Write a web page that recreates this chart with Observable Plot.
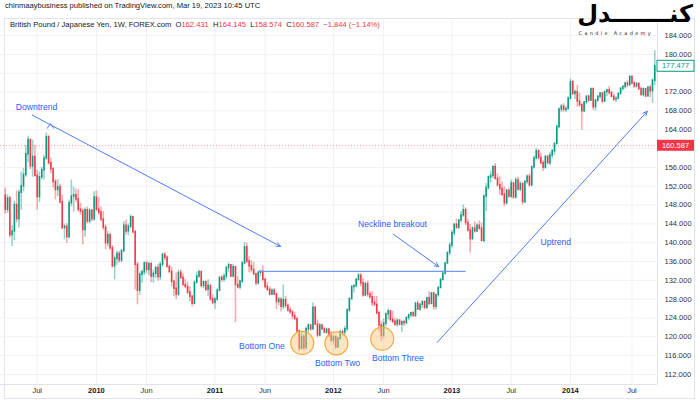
<!DOCTYPE html>
<html><head><meta charset="utf-8">
<script src="https://cdn.jsdelivr.net/npm/d3@7"></script>
<script src="https://cdn.jsdelivr.net/npm/@observablehq/plot@0.6"></script>
<style>
body{margin:0;background:#fff;font-family:"Liberation Sans",Arial,sans-serif;}
#wrap{position:relative;width:700px;height:400px;overflow:hidden;background:#fff;}
#pub{position:absolute;left:5px;top:1px;font-size:7.6px;color:#131722;white-space:nowrap;}
#box{position:absolute;left:4px;top:18px;width:691px;height:381px;border:1px solid #e0e3eb;box-sizing:border-box;}
#chart{position:absolute;left:0;top:18px;}
#sym{position:absolute;left:10px;top:20px;font-size:7.6px;color:#131722;white-space:nowrap;}
#sym .r{color:#f23645;}
#logo{position:absolute;right:7px;top:2px;text-align:right;}
#logo .fa{font-family:"DejaVu Sans";font-weight:bold;font-size:24px;line-height:24px;height:24px;color:#000;direction:rtl;}
#logo .en{font-family:"DejaVu Sans";font-size:5px;line-height:5px;letter-spacing:2.3px;color:#222;margin-top:5px;margin-right:40px;}
</style></head>
<body><div id="wrap">
<div id="pub">chinmaaybusiness published on TradingView.com, Mar 19, 2023 10:45 UTC</div>
<div id="box"></div>
<div id="chart"></div>
<div id="sym">British Pound / Japanese Yen, 1W, FOREX.com&nbsp;&nbsp;O<span class="r">162.431</span>&nbsp;&nbsp;H<span class="r">164.145</span>&nbsp;&nbsp;L<span class="r">158.574</span>&nbsp;&nbsp;C<span class="r">160.587</span>&nbsp;&nbsp;<span class="r">−1.844 (−1.14%)</span></div>
<div id="logo"><div class="fa">کنـــــــدل</div><div class="en">Candle Academy</div></div>
</div>
<script>
const opens = [150.0,147.0,149.4,141.6,142.4,148.0,145.0,150.6,152.0,154.4,
158.8,161.8,156.2,158.2,154.2,149.7,153.9,155.4,157.9,162.4,
156.9,155.6,152.9,151.2,151.8,148.6,143.1,143.4,141.2,148.4,
149.8,150.1,149.2,147.0,146.6,142.7,146.9,144.5,146.8,145.0,
149.6,147.0,146.4,144.9,143.2,139.9,141.6,138.8,135.0,136.6,
137.6,136.2,138.2,143.6,142.4,143.4,145.4,142.2,135.3,129.8,
133.2,133.7,135.6,134.2,135.4,132.8,133.4,134.6,132.7,135.3,
137.4,136.8,134.9,133.8,131.7,130.2,129.0,133.6,132.5,131.0,
130.6,129.4,128.5,127.0,131.5,132.8,133.7,130.8,131.6,130.0,
130.8,128.0,127.2,127.9,129.8,132.5,132.1,132.8,134.6,135.2,
132.8,134.8,131.0,130.5,131.7,135.6,139.0,136.0,135.0,134.2,
133.3,131.4,133.6,133.8,132.1,130.6,130.0,129.0,129.8,129.0,
127.4,127.9,126.4,127.8,126.6,125.6,125.2,124.4,123.8,121.2,
117.5,120.0,117.6,121.6,122.4,121.6,126.2,122.6,120.3,122.4,
121.6,120.9,121.5,120.2,119.2,119.9,117.8,119.6,121.0,120.9,
121.6,125.6,128.0,130.6,130.8,132.1,133.0,131.4,128.8,131.2,
129.0,128.4,127.2,126.8,125.0,122.4,120.2,122.8,124.8,125.4,
123.6,123.2,122.6,123.4,122.6,123.1,122.9,124.0,124.6,125.0,
124.4,127.0,125.8,126.8,127.4,126.2,128.2,127.0,129.2,126.4,
128.9,130.4,132.1,133.4,135.6,137.8,139.4,142.0,143.8,143.2,
144.7,145.8,146.9,144.2,142.6,140.8,143.0,142.4,143.6,143.0,
140.4,149.8,151.6,153.9,154.2,156.1,153.6,152.2,151.4,150.2,
148.4,151.0,149.8,152.6,149.6,153.2,151.3,152.4,148.6,152.9,
154.0,152.2,156.0,157.9,159.4,158.0,156.9,155.9,158.2,156.9,
158.5,159.4,161.0,164.6,168.3,168.9,168.2,168.4,170.6,174.1,
171.6,172.0,170.0,169.2,167.9,169.8,171.0,170.2,172.6,168.8,
170.2,171.0,171.7,170.0,172.0,172.4,171.8,171.0,170.4,170.6,
171.6,172.7,173.1,173.8,173.5,175.2,173.8,173.2,173.7,172.6,
171.4,172.6,171.1,172.9,172.2,174.4];
const highs = [151.6,150.2,149.8,143.6,148.8,151.0,151.2,155.0,155.8,160.7,
162.6,162.0,161.8,160.7,155.4,155.0,156.0,158.6,163.3,162.8,
158.0,156.0,153.5,153.4,152.4,150.1,143.9,144.0,149.0,153.3,
151.8,151.4,151.2,148.4,147.2,147.4,147.6,147.2,147.0,150.8,
151.0,149.6,147.6,146.6,143.8,142.4,142.0,139.4,137.2,138.2,
138.2,138.6,144.4,144.8,144.0,145.9,145.6,142.6,135.8,133.8,
134.2,135.9,136.0,135.8,135.9,134.2,135.0,135.4,135.8,137.8,
137.9,137.2,135.0,134.8,132.0,133.6,134.2,134.2,133.4,132.2,
131.6,130.6,128.8,131.8,133.8,134.2,134.0,131.9,131.8,132.1,
131.0,128.9,128.4,130.2,132.8,133.0,133.4,135.0,135.7,135.3,
135.4,135.0,132.8,132.0,136.0,140.0,139.9,137.0,136.2,135.8,
133.5,133.9,134.2,135.1,132.4,131.6,130.6,130.2,130.2,129.3,
128.4,128.3,131.0,128.6,127.0,126.3,125.6,125.2,124.0,121.4,
120.9,120.4,122.1,122.8,122.6,127.2,126.4,123.6,122.8,122.6,
122.0,121.8,121.8,121.1,120.4,120.2,119.9,121.3,121.4,122.2,
126.0,128.3,130.8,131.0,132.3,133.5,133.5,132.4,131.6,131.8,
129.6,129.6,128.6,128.6,125.4,123.3,123.8,125.0,125.9,125.6,
125.4,123.9,123.8,123.7,123.4,123.6,124.2,124.8,125.2,125.4,
127.4,127.6,127.0,127.6,127.6,128.4,129.6,129.4,129.4,129.0,
130.6,132.3,134.0,135.8,138.0,140.0,142.6,144.0,145.0,144.9,
146.6,148.0,147.4,145.0,143.8,143.4,144.4,144.0,144.6,144.2,
150.2,152.6,154.2,155.2,156.3,156.8,154.6,154.0,152.9,151.9,
151.4,151.6,153.3,152.8,153.8,153.9,153.0,152.8,153.2,154.4,
154.6,156.3,158.4,160.0,159.8,159.0,157.4,158.6,158.6,159.2,
159.8,161.2,165.0,168.6,169.4,169.5,169.0,171.0,174.8,174.4,
172.4,173.4,171.8,169.6,170.0,171.2,171.4,172.9,172.9,170.4,
171.2,171.9,171.8,172.2,172.6,173.2,172.2,171.6,171.0,171.8,
172.9,173.4,174.1,174.4,175.5,175.4,174.2,174.0,173.9,173.0,
172.9,172.8,173.2,173.4,174.8,180.8];
const lows = [146.0,146.2,141.0,139.2,140.4,144.2,143.1,146.9,150.8,153.9,
157.0,155.5,153.9,153.9,146.9,148.5,153.3,153.3,157.5,156.5,
154.6,151.6,149.1,149.8,148.2,142.8,140.6,139.9,140.8,147.6,
146.5,148.6,146.5,145.8,139.5,141.2,144.0,144.0,144.5,144.6,
146.6,145.8,144.4,142.6,138.5,139.1,138.4,134.6,132.1,135.2,
135.6,135.8,138.0,141.6,141.5,142.9,141.9,130.0,126.8,128.8,
131.4,133.0,133.4,133.0,131.5,131.4,132.4,131.8,132.0,134.8,
136.2,134.6,133.4,130.6,128.5,127.9,128.6,132.2,130.8,130.2,
129.0,127.4,126.4,126.8,131.2,132.4,130.4,130.2,129.5,128.5,
127.6,126.8,125.8,127.6,129.6,131.6,131.6,132.1,133.6,132.6,
132.6,123.0,130.2,130.0,131.4,135.3,135.6,133.6,133.6,133.0,
130.8,131.0,132.8,131.7,130.2,129.6,128.7,128.7,128.8,125.8,
126.6,125.3,125.8,126.0,125.2,124.8,123.6,123.4,120.9,116.9,
117.2,117.0,117.2,120.8,121.2,121.4,122.4,119.8,120.0,121.3,
120.7,120.5,119.9,118.7,118.2,117.3,117.5,119.2,120.1,120.1,
121.1,125.2,127.8,129.3,130.4,131.8,130.6,128.4,128.6,128.4,
128.0,126.4,126.4,124.7,121.1,119.0,119.6,122.2,123.6,123.2,
122.8,122.2,122.0,122.3,120.9,122.2,122.6,123.4,124.0,124.2,
124.2,125.6,125.4,126.0,125.7,125.8,126.6,126.8,125.7,125.7,
128.4,130.2,131.8,133.2,135.4,137.2,138.8,141.4,142.8,142.8,
144.2,145.4,143.6,142.2,137.8,140.4,142.0,142.2,142.6,140.2,
140.0,146.6,151.2,152.6,153.6,153.3,151.8,150.1,149.8,147.6,
148.0,149.4,149.4,149.2,149.3,151.0,150.8,148.0,148.3,152.4,
151.8,151.9,155.6,157.6,157.6,156.6,155.1,155.6,156.6,156.4,
157.9,158.6,160.7,164.2,167.6,167.8,167.6,168.2,170.3,171.3,
170.4,168.8,168.8,163.9,167.6,169.4,169.8,170.0,168.1,168.0,
169.8,170.5,169.5,169.8,171.0,171.4,170.8,169.9,169.8,170.4,
171.4,172.2,172.6,172.9,173.2,173.6,172.8,172.8,172.4,171.2,
171.0,170.8,170.9,170.8,169.6,173.4];
const closes = [147.0,149.4,141.6,142.4,148.0,145.0,150.6,152.0,154.4,158.8,
161.8,156.2,158.2,154.2,149.7,153.9,155.4,157.9,162.4,156.9,
155.6,152.9,151.2,151.8,148.6,143.1,143.4,141.2,148.4,149.8,
150.1,149.2,147.0,146.6,142.7,146.9,144.5,146.8,145.0,149.6,
147.0,146.4,144.9,143.2,139.9,141.6,138.8,135.0,136.6,137.6,
136.2,138.2,143.6,142.4,143.4,145.4,142.2,135.3,129.8,133.2,
133.7,135.6,134.2,135.4,132.8,133.4,134.6,132.7,135.3,137.4,
136.8,134.9,133.8,131.7,130.2,129.0,133.6,132.5,131.0,130.6,
129.4,128.5,127.0,131.5,132.8,133.7,130.8,131.6,130.0,130.8,
128.0,127.2,127.9,129.8,132.5,132.1,132.8,134.6,135.2,132.8,
134.8,131.0,130.5,131.7,135.6,139.0,136.0,135.0,134.2,133.3,
131.4,133.6,133.8,132.1,130.6,130.0,129.0,129.8,129.0,127.4,
127.9,126.4,127.8,126.6,125.6,125.2,124.4,123.8,121.2,117.5,
120.0,117.6,121.6,122.4,121.6,126.2,122.6,120.3,122.4,121.6,
120.9,121.5,120.2,119.2,119.9,117.8,119.6,121.0,120.9,121.6,
125.6,128.0,130.6,130.8,132.1,133.0,131.4,128.8,131.2,129.0,
128.4,127.2,126.8,125.0,122.4,120.2,122.8,124.8,125.4,123.6,
123.2,122.6,123.4,122.6,123.1,122.9,124.0,124.6,125.0,124.4,
127.0,125.8,126.8,127.4,126.2,128.2,127.0,129.2,126.4,128.9,
130.4,132.1,133.4,135.6,137.8,139.4,142.0,143.8,143.2,144.7,
145.8,146.9,144.2,142.6,140.8,143.0,142.4,143.6,143.0,140.4,
149.8,151.6,153.9,154.2,156.1,153.6,152.2,151.4,150.2,148.4,
151.0,149.8,152.6,149.6,153.2,151.3,152.4,148.6,152.9,154.0,
152.2,156.0,157.9,159.4,158.0,156.9,155.9,158.2,156.9,158.5,
159.4,161.0,164.6,168.3,168.9,168.2,168.4,170.6,174.1,171.6,
172.0,170.0,169.2,167.9,169.8,171.0,170.2,172.6,168.8,170.2,
171.0,171.7,170.0,172.0,172.4,171.8,171.0,170.4,170.6,171.6,
172.7,173.1,173.8,173.5,175.2,173.8,173.2,173.7,172.6,171.4,
172.6,171.1,172.9,172.2,174.4,177.477];

const firstWeek = "2009-03-30";
const tickDates = ["2009-07-06","2010-01-04","2010-06-07","2011-01-03","2011-06-06","2012-01-02","2012-06-04","2012-12-31","2013-07-01","2013-12-30","2014-07-07"];
const tickLabels = ["Jul","2010","Jun","2011","Jun","2012","Jun","2013","Jul","2014","Jul"];
const priceTicks = [112,116,120,124,128,132,136,140,144,148,152,156,160,164,168,172,176,180,184];
const currentPrice = 160.587;
const lastClose = 177.477;

// annotations, x in weeks since first bar, y in price
const arrowX1 = [11.8, 170.2, 189.5];
const arrowY1 = [167.1, 141.8, 118.8];
const arrowX2 = [120.8, 190.2, 281.7];
const arrowY2 = [139.2, 134.9, 167.9];
const noteText = ["Downtrend","Neckline breakout","Uptrend","Bottom One","Bottom Two","Bottom Three"];
const noteX = [13.7, 169.9, 241.6, 112.6, 145.8, 172.3];
const noteY = [168.8, 144.0, 140.2, 117.9, 114.3, 115.4];
const bottomX = [130.3, 145.3, 165.4];
const bottomY = [118.7, 118.6, 119.6];
const necklineX = [111.2, 202.2];
const necklineY = 133.9;
const caretX = [18.4, 19.8, 21.3];
const caretY = [164.3, 165.3, 164.3];

const t0 = Date.parse(firstWeek + "T00:00:00Z");
const wk = i => new Date(t0 + i * 7 * 86400000);
const candles = closes.map((c, i) => ({date: wk(i), open: opens[i], high: highs[i], low: lows[i], close: c}));
const col = d => d.close >= d.open ? "#089981" : "#f23645";
const ticks = tickDates.map((s, i) => ({date: new Date(s + "T00:00:00Z"), label: tickLabels[i], year: /^\d+$/.test(tickLabels[i])}));
const arrows = arrowX1.map((x, i) => ({x1: wk(x), y1: arrowY1[i], x2: wk(arrowX2[i]), y2: arrowY2[i]}));
const notes = noteText.map((t, i) => ({t, x: wk(noteX[i]), y: noteY[i]}));
const bottoms = bottomX.map((x, i) => ({x: wk(x), y: bottomY[i]}));
const caret = caretX.map((x, i) => ({x: wk(x), y: caretY[i]}));
// labels hidden behind the price boxes on the scale are not drawn (as in TradingView)
const labelTicks = priceTicks.filter(v => Math.abs(v - currentPrice) > 2.2 && Math.abs(v - lastClose) > 2.2);

const xDomain = [wk(-2.1), wk(286.2)];
const yDomain = [109.87, 187.63];
const blue = "#4f7cf7";

const chart = Plot.plot({
  width: 700, height: 382,
  marginLeft: 0, marginRight: 43, marginTop: 0, marginBottom: 16,
  style: {fontFamily: "'Liberation Sans', Arial, sans-serif", fontSize: "7.5px", background: "transparent", color: "#131722"},
  x: {type: "utc", domain: xDomain, axis: null},
  y: {domain: yDomain, axis: null},
  marks: [
    Plot.gridY(priceTicks, {stroke: "#eef1f7", strokeOpacity: 1}),
    Plot.gridX(ticks.map(d => d.date), {stroke: "#eef1f7", strokeOpacity: 1}),
    Plot.ruleY([yDomain[0]], {stroke: "#e0e3eb"}),
    Plot.ruleX([xDomain[1]], {stroke: "#e0e3eb"}),
    Plot.ruleY([currentPrice], {stroke: "#f23645", strokeOpacity: 0.55, strokeDasharray: "1 2"}),
    Plot.ruleX(candles, {x: "date", y1: "low", y2: "high", stroke: col, strokeOpacity: 0.42, strokeWidth: 1.6}),
    Plot.ruleX(candles, {x: "date", y1: "open", y2: "close", stroke: col, strokeWidth: 1.5, strokeLinecap: "square"}),
    Plot.ruleY([necklineY], {x1: wk(necklineX[0]), x2: wk(necklineX[1]), stroke: "#7199f8", strokeWidth: 1.3}),
    Plot.arrow(arrows, {x1: "x1", y1: "y1", x2: "x2", y2: "y2", stroke: blue, strokeWidth: 1, headLength: 7, headAngle: 50}),
    Plot.line(caret, {x: "x", y: "y", stroke: blue, strokeWidth: 1}),
    Plot.dot(bottoms, {x: "x", y: "y", r: 11.5, fill: "#fbc67a", fillOpacity: 0.45, stroke: "#f5a83a", strokeWidth: 1.2}),
    Plot.text(notes, {x: "x", y: "y", text: "t", fill: "#2962ff", fontSize: 8.6}),
    Plot.axisY(labelTicks, {anchor: "right", tickSize: 0, tickPadding: 7, tickFormat: d => d.toFixed(3), fill: "#333", fontSize: 7.5}),
    Plot.text(ticks.filter(d => !d.year), {x: "date", text: "label", frameAnchor: "bottom", dy: 8, fill: "#333", fontSize: 7.5}),
    Plot.text(ticks.filter(d => d.year), {x: "date", text: "label", frameAnchor: "bottom", dy: 8, fill: "#131722", fontSize: 7.5, fontWeight: "bold"})
  ]
});

// price-scale labels for last close and current price
const ys = chart.scale("y");
const svg = d3.select(chart);
const xr = 657;
const gLast = svg.append("g");
gLast.append("rect").attr("x", xr).attr("y", ys.apply(lastClose) - 5.5).attr("width", 37).attr("height", 11)
  .attr("fill", "#fff").attr("stroke", "#089981").attr("stroke-width", 1);
gLast.append("text").attr("x", xr + 18.5).attr("y", ys.apply(lastClose)).attr("dy", "0.35em")
  .attr("text-anchor", "middle").attr("fill", "#089981").attr("font-size", 7.5).text(lastClose.toFixed(3));
const gCur = svg.append("g");
gCur.append("rect").attr("x", xr).attr("y", ys.apply(currentPrice) - 5.5).attr("width", 37).attr("height", 11)
  .attr("fill", "#f23645");
gCur.append("text").attr("x", xr + 18.5).attr("y", ys.apply(currentPrice)).attr("dy", "0.35em")
  .attr("text-anchor", "middle").attr("fill", "#fff").attr("font-size", 7.5).text(currentPrice.toFixed(3));

document.getElementById("chart").appendChild(chart);
</script>
</body></html>
